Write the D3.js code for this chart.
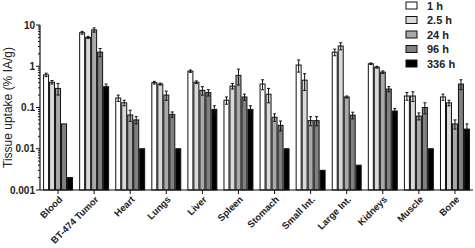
<!DOCTYPE html>
<html lang="en">
<head>
<meta charset="utf-8">
<title>Tissue uptake</title>
<script src="https://d3js.org/d3.v7.min.js"></script>
<style>
  body { margin: 0; background: #fff; }
  svg text { font-family: "Liberation Sans", Arial, sans-serif; }
</style>
</head>
<body>
<script>
  // data
  const organs = ["Blood", "BT-474 Tumor", "Heart", "Lungs", "Liver", "Spleen",
                  "Stomach", "Small Int.", "Large Int.", "Kidneys", "Muscle", "Bone"];
  const times = ["1 h", "2.5 h", "24 h", "96 h", "336 h"];
  const colors = ["#ffffff", "#d9d9d9", "#a9a9a9", "#808080", "#000000"];

  // mean uptake per organ, one value per time point
  const uptake = [
    [0.62, 0.41, 0.29, 0.04, 0.002],
    [6.5, 5.0, 7.6, 2.2, 0.32],
    [0.17, 0.13, 0.066, 0.05, 0.01],
    [0.40, 0.37, 0.20, 0.068, 0.01],
    [0.76, 0.41, 0.26, 0.23, 0.09],
    [0.15, 0.33, 0.60, 0.18, 0.09],
    [0.37, 0.21, 0.058, 0.037, 0.01],
    [1.07, 0.46, 0.048, 0.048, 0.003],
    [2.2, 3.1, 0.18, 0.065, 0.004],
    [1.15, 0.95, 0.72, 0.28, 0.082],
    [0.19, 0.19, 0.062, 0.10, 0.01],
    [0.18, 0.13, 0.04, 0.37, 0.03]
  ];
  const errors = [
    [0.06, 0.04, 0.09, 0, 0],
    [0.5, 0.3, 0.9, 0.5, 0.05],
    [0.03, 0.02, 0.02, 0.01, 0],
    [0.03, 0.02, 0.05, 0.01, 0],
    [0.05, 0.03, 0.06, 0.04, 0.02],
    [0.03, 0.05, 0.25, 0.03, 0.02],
    [0.1, 0.08, 0.012, 0.01, 0],
    [0.35, 0.2, 0.012, 0.012, 0],
    [0.4, 0.6, 0.01, 0.012, 0],
    [0.05, 0.05, 0.05, 0.04, 0.012],
    [0.04, 0.05, 0.012, 0.03, 0],
    [0.03, 0.02, 0.01, 0.1, 0.01]
  ];
  const yTicks = [0.001, 0.01, 0.1, 1, 10];

  const W = 475, H = 248;
  const mLeft = 40, mRight = 473, mTop = 25, mBottom = 190;

  const svg = d3.select("body").append("svg")
      .attr("width", W)
      .attr("height", H);

  const x0 = d3.scaleBand()
      .domain(organs)
      .range([mLeft, mRight])
      .paddingInner(0.17)
      .paddingOuter(0.085);

  const x1 = d3.scaleBand()
      .domain(times)
      .range([0, x0.bandwidth()]);

  const y = d3.scaleLog()
      .domain([0.001, 10])
      .range([mBottom, mTop]);

  const rows = [];
  organs.forEach((o, i) => {
    times.forEach((t, j) => {
      rows.push({organ: o, time: t, j: j, v: uptake[i][j], e: errors[i][j]});
    });
  });

  // bars
  svg.append("g").selectAll("rect")
      .data(rows)
      .join("rect")
      .attr("x", d => x0(d.organ) + x1(d.time) + 0.5)
      .attr("y", d => y(d.v))
      .attr("width", x1.bandwidth() - 1)
      .attr("height", d => y(0.001) - y(d.v))
      .attr("fill", d => colors[d.j])
      .attr("stroke", "#111")
      .attr("stroke-width", 1);

  // error bars
  const eb = svg.append("g").attr("stroke", "#111").attr("stroke-width", 1)
      .selectAll("g")
      .data(rows.filter(d => d.e > 0))
      .join("g")
      .attr("transform", d => "translate(" + (x0(d.organ) + x1(d.time) + x1.bandwidth() / 2) + ",0)");

  eb.append("line")
      .attr("y1", d => y(Math.max(d.v - d.e, d.v * 0.5)))
      .attr("y2", d => y(d.v + d.e));
  eb.append("line")
      .attr("x1", -1.5).attr("x2", 1.5)
      .attr("y1", d => y(d.v + d.e))
      .attr("y2", d => y(d.v + d.e));
  eb.append("line")
      .attr("x1", -1.5).attr("x2", 1.5)
      .attr("y1", d => y(Math.max(d.v - d.e, d.v * 0.5)))
      .attr("y2", d => y(Math.max(d.v - d.e, d.v * 0.5)));

  // left axis with minor ticks
  const gy = svg.append("g").attr("transform", "translate(" + mLeft + ",0)");
  gy.append("line")
      .attr("y1", y(10)).attr("y2", y(0.001))
      .attr("stroke", "#111").attr("stroke-width", 1.2);
  gy.selectAll(".minor")
      .data(y.ticks())
      .join("line")
      .attr("x1", d => yTicks.includes(d) ? -4 : -2)
      .attr("x2", 0)
      .attr("y1", d => y(d)).attr("y2", d => y(d))
      .attr("stroke", "#111").attr("stroke-width", 1);
  gy.selectAll("text")
      .data(yTicks)
      .join("text")
      .attr("x", -5)
      .attr("y", d => y(d))
      .attr("dy", "0.35em")
      .attr("text-anchor", "end")
      .attr("font-size", 10)
      .attr("font-weight", "bold")
      .attr("fill", "#222")
      .text(d => String(d));

  // bottom axis
  const gx = svg.append("g").attr("transform", "translate(0," + mBottom + ")");
  gx.append("line")
      .attr("x1", mLeft).attr("x2", mRight)
      .attr("stroke", "#111").attr("stroke-width", 1.2);
  gx.selectAll(".tick")
      .data(organs)
      .join("line")
      .attr("x1", d => x0(d) + x0.bandwidth() / 2)
      .attr("x2", d => x0(d) + x0.bandwidth() / 2)
      .attr("y1", 0).attr("y2", 4)
      .attr("stroke", "#111");
  gx.selectAll("text")
      .data(organs)
      .join("text")
      .attr("transform", d => "translate(" + (x0(d) + x0.bandwidth() / 2 + 1) + ",6)rotate(-45)")
      .attr("text-anchor", "end")
      .attr("dy", "0.6em")
      .attr("font-size", 9.5)
      .attr("font-weight", "bold")
      .attr("fill", "#222")
      .text(d => d);

  // y label
  svg.append("text")
      .attr("transform", "translate(12," + ((mTop + mBottom) / 2) + ")rotate(-90)")
      .attr("text-anchor", "middle")
      .attr("font-size", 12)
      .attr("fill", "#222")
      .text("Tissue uptake (% IA/g)");

  // legend
  const lg = svg.append("g").attr("transform", "translate(406,2)");
  const item = lg.selectAll("g")
      .data(times)
      .join("g")
      .attr("transform", (d, i) => "translate(0," + (i * 14.5) + ")");
  item.append("rect")
      .attr("width", 11).attr("height", 7)
      .attr("fill", (d, i) => colors[i])
      .attr("stroke", "#111");
  item.append("text")
      .attr("x", 21).attr("y", 4)
      .attr("dy", "0.35em")
      .attr("font-size", 11)
      .attr("font-weight", "bold")
      .attr("fill", "#222")
      .text(d => d);
</script>
</body>
</html>
